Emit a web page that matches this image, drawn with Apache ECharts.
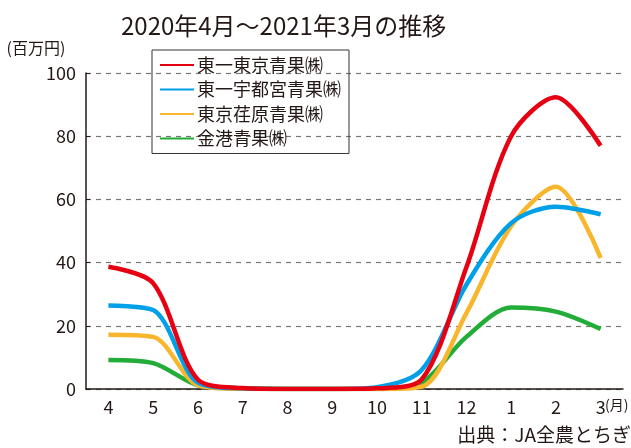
<!DOCTYPE html>
<html><head><meta charset="utf-8">
<script src="https://cdn.jsdelivr.net/npm/echarts@6/dist/echarts.min.js"></script>
<style>html,body{margin:0;padding:0;background:#fff}#c{width:631px;height:448px}</style>
</head><body><div id="c"></div>
<script>
var months = ['4','5','6','7','8','9','10','11','12','1','2','3'];
var yTicks = [0,20,40,60,80,100];
var seriesNames = ['東一東京青果㈱','東一宇都宮青果㈱','東京荏原青果㈱','金港青果㈱'];
var touichiTokyo = [38.7, 33.5, 3.0, 0.3, 0, 0, 0.2, 3.0, 38.5, 80, 92.3, 77];
var touichiUtsunomiya = [26.4, 25, 2.0, 0.2, 0, 0, 0.6, 6, 33, 52.5, 57.7, 55.3];
var tokyoEbara = [17.2, 16.5, 1.2, 0, 0, 0, 0, 0.7, 24, 51.5, 64, 41.5];
var kinko = [9.2, 8.2, 1.2, 0.2, 0, 0, 0, 2, 16.5, 25.8, 24.5, 19];
var colors = ['#e60012','#00a0e9','#f8b62d','#22ac38'];
var FONT = '"Noto Sans CJK JP", "Noto Sans", sans-serif';
var TXT = '#231815';
var data = [touichiTokyo, touichiUtsunomiya, tokyoEbara, kinko];
var chart = echarts.init(document.getElementById('c'));
chart.setOption({
  animation: false,
  textStyle: {fontFamily: FONT, color: TXT},
  title: {text: '2020年4月～2021年3月の推移', left: 116, top: 9,
    textStyle: {fontFamily: FONT, fontSize: 24, fontWeight: 'normal', color: TXT}},
  legend: {orient: 'vertical', left: 152, top: 50, padding: [6, 8, 6, 8], itemGap: 6.5,
    borderColor: '#333', borderWidth: 1, itemWidth: 34, itemHeight: 2, icon: 'rect',
    textStyle: {fontFamily: FONT, fontSize: 18, color: TXT, padding: [0,0,0,-2]},
    data: seriesNames},
  grid: {left: 86, right: 8, top: 73, bottom: 59, containLabel: false},
  xAxis: {type: 'category', data: months, boundaryGap: true,
    axisLine: {lineStyle: {color: '#231815', width: 1.5}},
    axisTick: {alignWithLabel: true, inside: true, length: 8, lineStyle: {color: '#231815', width: 1.2}},
    axisLabel: {fontSize: 18, color: TXT, margin: 9, fontFamily: FONT}},
  yAxis: {type: 'value', min: 0, max: 100, interval: 20,
    name: '(百万円)', nameLocation: 'end', nameGap: 17,
    nameTextStyle: {fontSize: 16, color: TXT, align: 'center', padding: [0, 0, 0, -100]},
    axisLine: {show: true, lineStyle: {color: '#231815', width: 1.5}},
    axisTick: {show: true, inside: true, length: 4, lineStyle: {color: '#231815'}},
    axisLabel: {fontSize: 18, color: TXT, margin: 10, fontFamily: FONT},
    splitLine: {lineStyle: {color: '#777', type: [5, 5], width: 1.2}}},
  graphic: [
    {type: 'text', left: 605, top: 398, style: {text: '(月)', fontSize: 14, fill: TXT, fontFamily: FONT}},
    {type: 'text', right: 0, top: 425, style: {text: '出典：JA全農とちぎ', fontSize: 19, fill: TXT, fontFamily: FONT}}
  ],
  series: seriesNames.map(function(n, i){
    return {name: n, type: 'line', data: data[i], smooth: 0.3, symbol: 'none',
      color: colors[i], lineStyle: {width: 4.5, color: colors[i]}, z: 10 - i};
  })
});
</script></body></html>
